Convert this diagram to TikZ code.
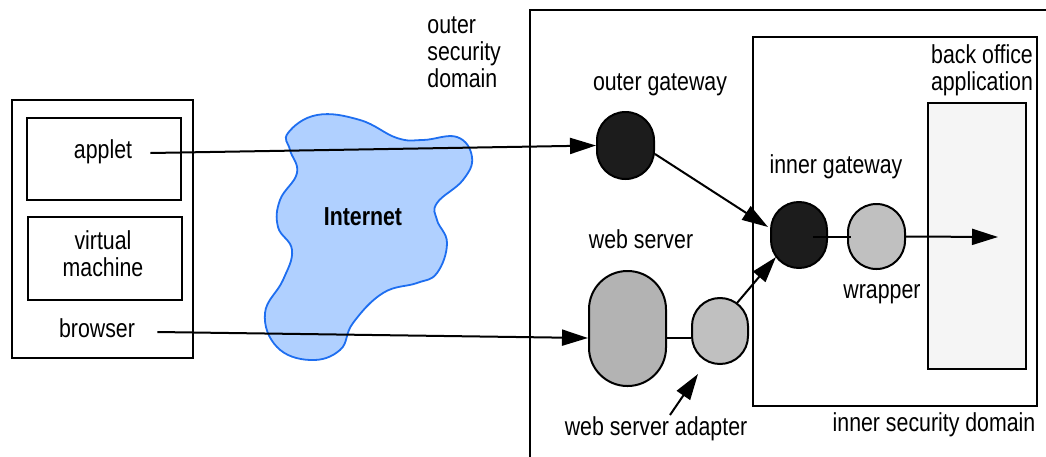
\documentclass[tikz,border=0pt]{standalone}
\usepackage{fontspec}
\setmainfont{Liberation Sans}[FakeStretch=0.82]
\usetikzlibrary{arrows.meta,calc}
\definecolor{cloudfill}{HTML}{B0D0FF}
\definecolor{cloudline}{HTML}{1E6EF0}
\definecolor{darkcomp}{HTML}{1C1C1C}
\definecolor{midcomp}{HTML}{B3B3B3}
\definecolor{lightcomp}{HTML}{C0C0C0}
\definecolor{appfill}{HTML}{F5F5F5}
\begin{document}
\begin{tikzpicture}[x=0.5pt,y=-0.5pt,
  every node/.style={font=\fontsize{13}{13.5}\selectfont, inner sep=0pt},
  lbl/.style={align=center},
  rectbox/.style 2 args={draw, line width=1pt, minimum width=#1*0.5pt, minimum height=#2*0.5pt},
  pill/.style 2 args={draw, line width=1pt, minimum width=#1*0.5pt, minimum height=#2*0.5pt, rounded corners=#1*0.249pt},
  arr/.style={line width=1pt, -{Triangle[length=13pt,width=8pt]}},
  wire/.style={line width=1pt}]
\useasboundingbox (0,0) rectangle (1046,456);
\clip (0,0) rectangle (1046,456);

% client machine
\node[rectbox={181}{258}] (client) at (102.5,229) {};
\node[rectbox={154}{82}] (appletbox) at (104,159) {};
\node[rectbox={154}{83}] (vmbox) at (105,258.5) {};
\node (applet) at (103,152) {applet};
\node[lbl] (vm) at (103,254) {virtual\\machine};
\node (browser) at (97,328) {browser};

% the Internet
\draw[cloudline, fill=cloudfill, line width=0.9pt] plot[smooth cycle, tension=0.7] coordinates {
  (290,150) (288,133) (317,115) (360,120) (397,138) (423,140) (457,137) (472,157)
  (463,180) (437,203) (437,220) (447,243) (437,273) (417,283) (383,293) (353,323)
  (340,350) (310,360) (277,347) (265,313) (283,280) (292,250) (278,227) (280,200)
  (297,173)};
\node[font=\fontsize{13}{13.5}\selectfont\bfseries] (internet) at (363,217) {Internet};

% outer security domain
\draw[wire] (1060,10) -- (530,10) -- (530,470);
\node[align=left, anchor=west] (outerlbl) at (427,52) {outer\\security\\domain};

% inner security domain
\node[rectbox={284}{369}] (inner) at (895,221.5) {};
\node (innerlbl) at (934,425) {inner security domain};
\node[rectbox={98}{266}, fill=appfill] (backoffice) at (977,236) {};
\node[lbl] (bolbl) at (982,70) {back office\\application};

% components
\node[pill={57}{67}, fill=darkcomp] (og) at (625.5,145.5) {};
\node[pill={56}{66}, fill=darkcomp] (ig) at (799,235) {};
\node[pill={57}{65}, fill=lightcomp] (wr) at (876.5,236.5) {};
\node[pill={77}{115}, fill=midcomp] (ws) at (627.5,328.5) {};
\node[pill={56}{66}, fill=lightcomp] (ad) at (720,331) {};

\node (oglbl) at (660,85) {outer gateway};
\node (iglbl) at (836,167) {inner gateway};
\node (wslbl) at (641,239) {web server};
\node (wrlbl) at (882,294) {wrapper};
\node (adlbl) at (656,429) {web server adapter};

% connections
\coordinate (boend) at (998,237);
\coordinate (adtail) at (670,415);
\draw[arr] ($(applet.east)+(18,1)$) -- (og.west);
\draw[arr] ($(browser.east)+(22,4)$) -- ($(ws.west)+(0,9.5)$);
\draw[arr] ($(og.east)+(0,8.5)$) -- ($(ig.west)+(-2,-8)$);
\draw[arr] ($(ad.center)+(17,-28)$) -- ($(ig.center)+(-23,22)$);
\draw[wire] ($(ws.east)+(0,9.5)$) -- ($(ad.west)+(0,7)$);
\draw[wire] ($(ig.center)+(14,2)$) -- ($(wr.west)+(4,0.5)$);
\draw[arr] (wr.east) -- (boend);
\draw[arr] (adtail) -- ($(ad.south)+(-22,9)$);
\end{tikzpicture}
\end{document}
